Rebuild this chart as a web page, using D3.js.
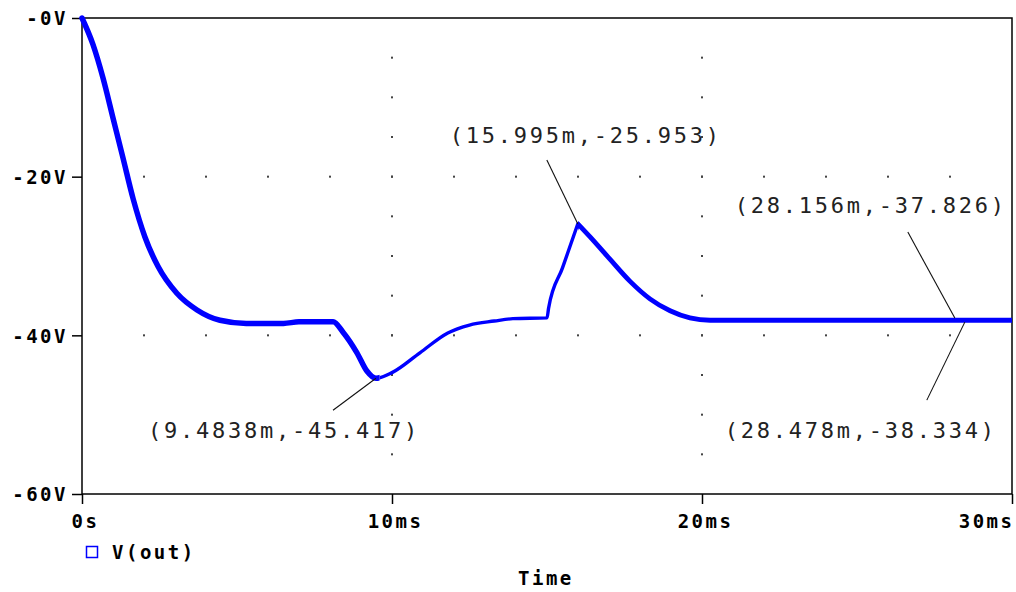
<!DOCTYPE html>
<html>
<head>
<meta charset="utf-8">
<script src="https://cdn.jsdelivr.net/npm/d3@7"></script>
<style>
  html, body { margin: 0; padding: 0; background: #ffffff; }
  svg { display: block; }
  .tick-label { font-family: "DejaVu Sans Mono", monospace; font-weight: bold; font-size: 19px; letter-spacing: 2.5px; fill: #000; }
  .callout { font-family: "DejaVu Sans Mono", monospace; font-size: 22px; letter-spacing: 2.75px; fill: #222; }
</style>
</head>
<body>
<svg id="chart" width="1016" height="592"></svg>
<script>
// Transient response of V(out), time in ms, voltage in V
const timeMs = [0, 0.35, 0.68, 1.0, 1.32, 1.65, 2.03, 2.45, 3.06, 3.71, 4.45, 5.3, 6.5, 7.0, 8.1,
  8.42, 8.87, 9.19, 9.4838, 10.0, 10.9, 11.8, 12.5, 13.3, 13.9, 15.0, 15.05, 15.5, 15.995,
  16.39, 17.03, 17.68, 18.32, 18.97, 19.61, 20.26, 22, 25, 28.156, 30];
const vout = [0, -3.3, -7.6, -12.6, -17.6, -22.8, -27.6, -31.3, -34.7, -36.8, -38.1, -38.5, -38.5, -38.3, -38.3,
  -39.6, -42.2, -44.5, -45.417, -44.7, -42.2, -39.7, -38.7, -38.2, -37.9, -37.8, -36.6, -31.5, -25.953,
  -27.6, -30.4, -33.2, -35.4, -36.9, -37.8, -38.1, -38.1, -38.1, -38.1, -38.1];

// Axis ticks
const xTickValues = [0, 10, 20, 30];
const xTickLabels = ["0s", "10ms", "20ms", "30ms"];
const yTickValues = [0, -20, -40, -60];
const yTickLabels = ["-0V", "-20V", "-40V", "-60V"];

// Cursor readouts
const cursorT = [15.995, 28.156, 28.478, 9.4838];
const cursorV = [-25.953, -37.826, -38.334, -45.417];
const cursorText = ["(15.995m,-25.953)", "(28.156m,-37.826)", "(28.478m,-38.334)", "(9.4838m,-45.417)"];

const seriesName = "V(out)";
const xTitle = "Time";

// ---- layout ----
const svg = d3.select("#chart");
const defs = svg.append("defs");
const x = d3.scaleLinear().domain([0, 30]).range([82, 1012]);
const y = d3.scaleLinear().domain([0, -60]).range([18, 494]);
const blue = "#0000ff";

// dotted grid: dots at minor steps along interior major lines
const gridG = svg.append("g");
const dotSize = 2;
[10, 20].forEach(t => {
  d3.range(-5, -60, -5).forEach(v => {
    gridG.append("rect").attr("x", x(t) - dotSize / 2).attr("y", y(v) - dotSize / 2)
      .attr("width", dotSize).attr("height", dotSize).attr("fill", "#444");
  });
});
[-20, -40].forEach(v => {
  d3.range(2, 30, 2).forEach(t => {
    gridG.append("rect").attr("x", x(t) - dotSize / 2).attr("y", y(v) - dotSize / 2)
      .attr("width", dotSize).attr("height", dotSize).attr("fill", "#444");
  });
});

// frame
svg.append("rect").attr("x", x(0)).attr("y", y(0))
  .attr("width", x(30) - x(0)).attr("height", y(-60) - y(0))
  .attr("fill", "none").attr("stroke", "#000").attr("stroke-width", 1.5);

// y axis ticks + labels
const yAxisG = svg.append("g").attr("transform", `translate(${x(0)},0)`)
  .call(d3.axisLeft(y).tickValues(yTickValues).tickSize(10).tickPadding(4)
    .tickFormat((d, i) => yTickLabels[i]));
yAxisG.select(".domain").remove();
yAxisG.selectAll(".tick line").attr("stroke", "#000").attr("stroke-width", 1.5);
yAxisG.selectAll(".tick text").attr("class", "tick-label").attr("font-family", null).attr("font-size", null)
  .attr("text-anchor", "end").attr("dy", "0.36em");

// x axis ticks + labels
const xAxisG = svg.append("g").attr("transform", `translate(0,${y(-60)})`)
  .call(d3.axisBottom(x).tickValues(xTickValues).tickSize(10).tickPadding(10)
    .tickFormat((d, i) => xTickLabels[i]));
xAxisG.select(".domain").remove();
xAxisG.selectAll(".tick line").attr("stroke", "#000").attr("stroke-width", 1.5);
xAxisG.selectAll(".tick text").attr("class", "tick-label").attr("font-family", null).attr("font-size", null)
  .attr("dy", "0.75em")
  .attr("text-anchor", (d, i) => i === xTickValues.length - 1 ? "end" : "middle")
  .attr("dx", (d, i) => i === xTickValues.length - 1 ? 2 : 3);

// trace: smooth path with a hard corner at the switching peak,
// stroked with different widths over time bands so the ripple envelope
// reads thicker where the ripple is larger
const pts = timeMs.map((t, i) => [t, vout[i]]);
const line = d3.line().x(d => x(d[0])).y(d => y(d[1])).curve(d3.curveMonotoneX);
const iPeak = timeMs.indexOf(15.995);
const pathD = line(pts.slice(0, iPeak + 1)) + line(pts.slice(iPeak));
const bands = [
  { t0: 0, t1: 9.6, w: 5.5 },
  { t0: 9.6, t1: 16.0, w: 3.4 },
  { t0: 16.0, t1: 30, w: 4.8 }
];
const traceG = svg.append("g");
bands.forEach((b, i) => {
  const x0 = x(b.t0) - (i === 0 ? 4 : 0);
  const x1 = x(b.t1);
  defs.append("clipPath").attr("id", "band" + i).append("rect")
    .attr("x", x0).attr("y", y(0) - 3).attr("width", x1 - x0).attr("height", y(-60) - y(0) + 6);
  traceG.append("path").attr("d", pathD).attr("fill", "none")
    .attr("clip-path", `url(#band${i})`)
    .attr("stroke", blue).attr("stroke-width", b.w)
    .attr("stroke-linejoin", "round").attr("stroke-linecap", "round");
});

// cursor readouts: leader line offset from the marked point, and text position
const calloutLayout = [
  { lx: -31, ly: -64, tx: -128, ty: -81 },
  { lx: -47, ly: -86, tx: -220, ty: -105 },
  { lx: -38, ly: 78, tx: -240, ty: 116 },
  { lx: -43, ly: 32, tx: -228, ty: 60 }
];
const calloutG = svg.append("g");
cursorT.forEach((t, i) => {
  const px = x(t), py = y(cursorV[i]);
  const L = calloutLayout[i];
  calloutG.append("line").attr("x1", px + L.lx).attr("y1", py + L.ly)
    .attr("x2", px).attr("y2", py).attr("stroke", "#111").attr("stroke-width", 1.1);
  calloutG.append("text").attr("class", "callout")
    .attr("x", px + L.tx).attr("y", py + L.ty).text(cursorText[i]);
});

// legend
svg.append("rect").attr("x", 86.5).attr("y", 546.5).attr("width", 11).attr("height", 11)
  .attr("fill", "none").attr("stroke", blue).attr("stroke-width", 1.5);
svg.append("text").attr("class", "tick-label").attr("x", 112).attr("y", 559).text(seriesName);

// x title
svg.append("text").attr("class", "tick-label").attr("x", 518).attr("y", 585).text(xTitle);
</script>
</body>
</html>
